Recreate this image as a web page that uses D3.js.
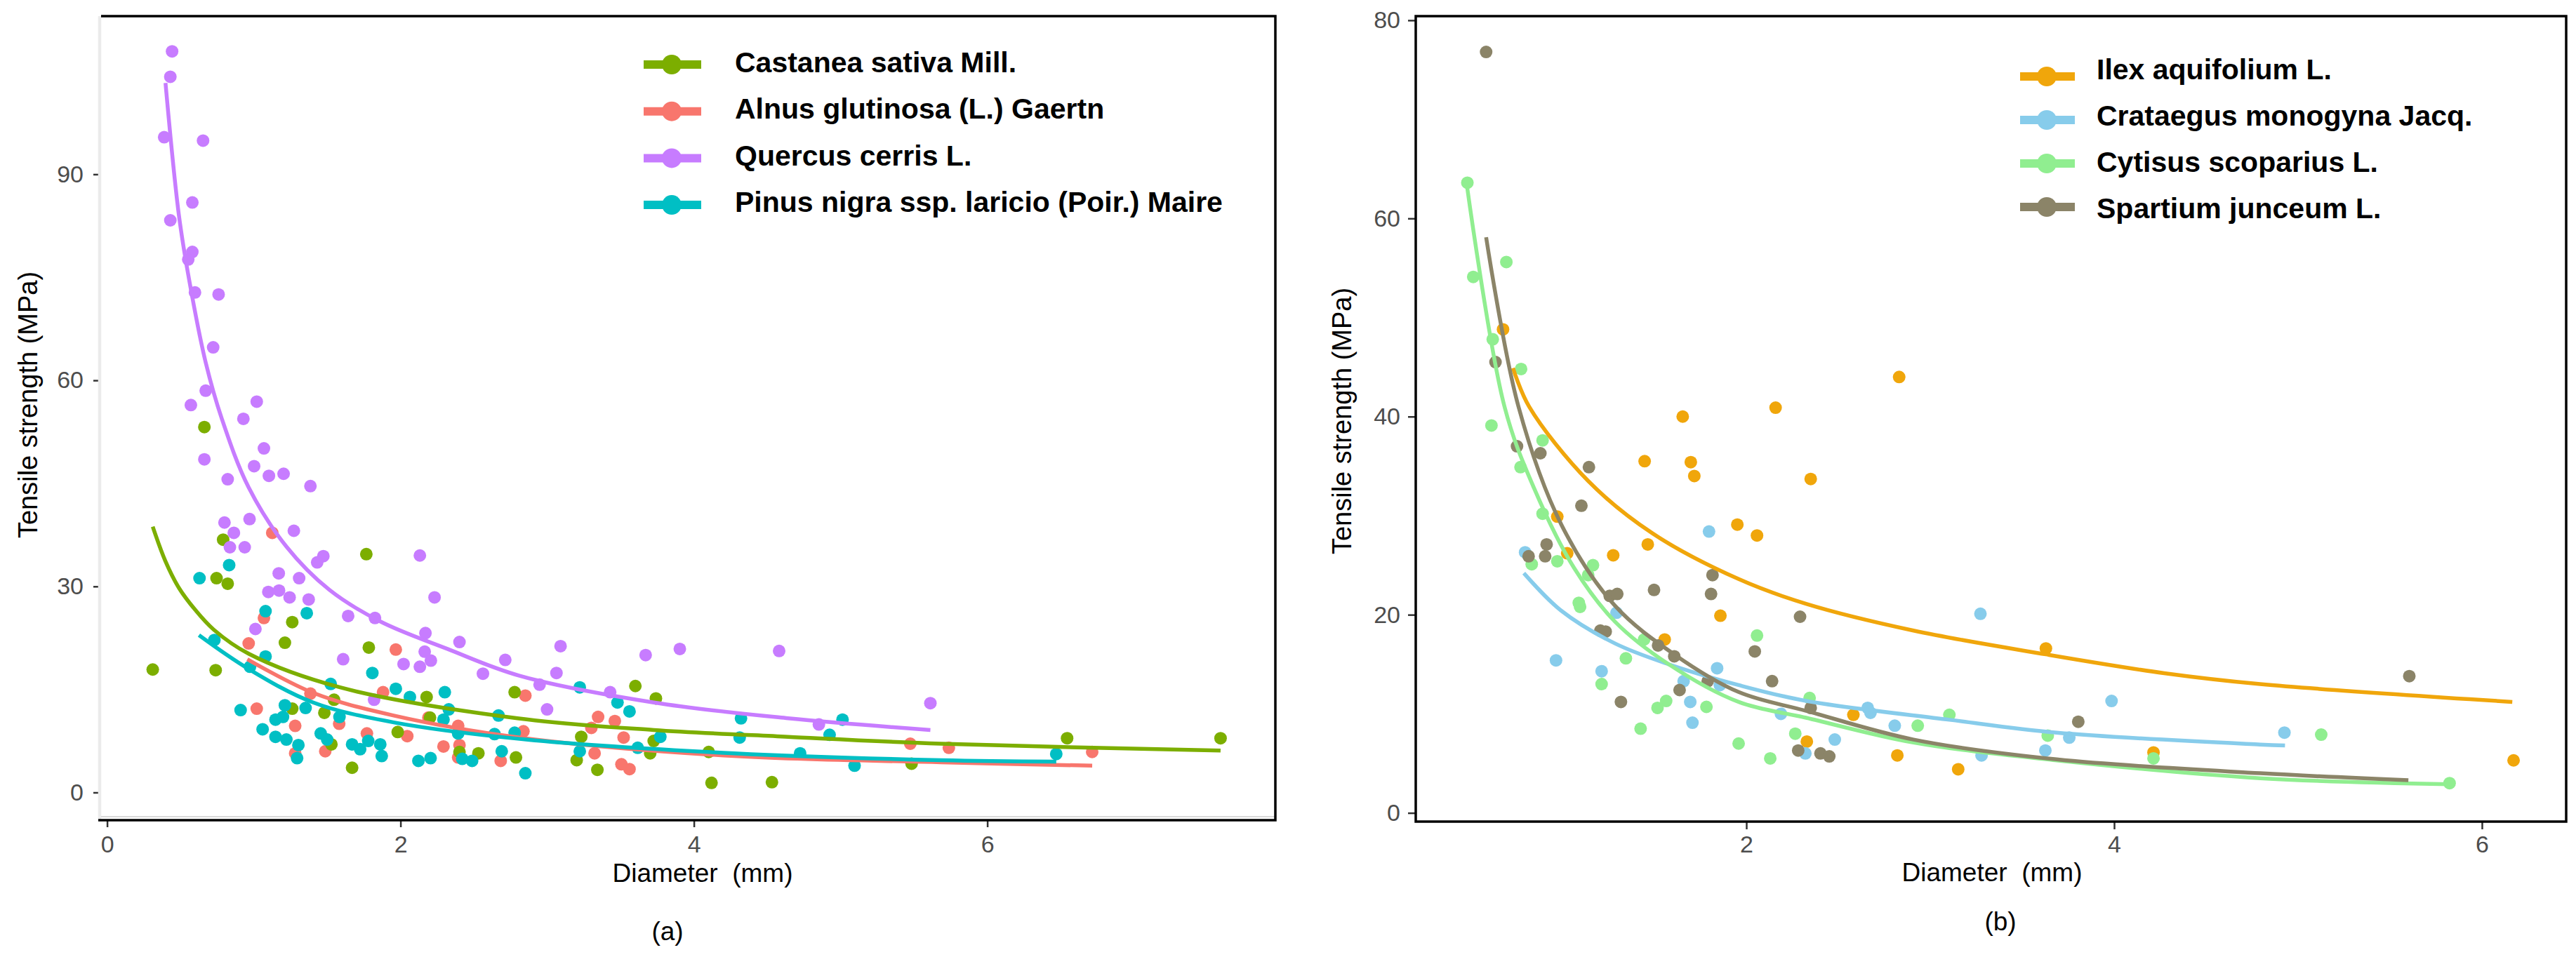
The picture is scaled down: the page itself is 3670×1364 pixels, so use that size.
<!DOCTYPE html>
<meta charset="utf-8">
<style>
    body { margin: 0; background: #fff; }
    svg { display: block; font-family: 'Liberation Sans', Arial, sans-serif; }
    .tick text { fill: #4d4d4d; font-size: 34px; }
    .tick line { stroke: #333; stroke-width: 2.5; }
    .legend text { font-size: 41px; font-weight: bold; fill: #000; }
    .title { font-size: 38px; fill: #000; }
</style>
<body>
<svg id="chart" width="3670" height="1364"></svg>

<script src="https://cdn.jsdelivr.net/npm/d3@7/dist/d3.min.js"></script>
<script>

// ---------- panel (a) data: [diameter mm, tensile strength MPa] ----------
var namesA = ["Castanea sativa Mill.", "Alnus glutinosa (L.) Gaertn", "Quercus cerris L.", "Pinus nigra ssp. laricio (Poir.) Maire"];
var colorsA = ["#7CAE00", "#F8766D", "#C77CFF", "#00BFC4"];
var xTicksA = [0, 2, 4, 6];
var yTicksA = [0, 30, 60, 90];

var castaneaPts = [[0.311,17.9],[0.663,53.2],[0.740,17.8],[0.746,31.2],[0.791,36.8],[0.822,30.4],[1.212,21.8],[1.262,24.8],
    [1.262,12.2],[1.481,11.6],[1.547,13.5],[1.529,7.0],[1.670,3.6],[1.767,34.7],[1.784,21.1],[1.981,8.8],[2.178,13.9],
    [2.201,10.9],[2.402,5.9],[2.531,5.7],[2.778,14.6],[2.787,5.1],[3.232,8.1],[3.201,4.7],[3.342,3.3],[3.601,15.5],
    [3.741,13.7],[3.726,7.5],[3.702,5.7],[4.101,5.9],[4.120,1.4],[4.532,1.5],[5.484,4.2],[6.544,7.9],[7.590,7.9]];
var alnusPts = [[1.020,12.2],[0.965,21.7],[1.069,25.4],[1.126,37.8],[1.282,9.7],[1.282,5.7],[1.386,14.4],[1.487,6.0],
    [1.582,10.0],[1.771,8.6],[1.881,14.6],[1.968,20.8],[2.046,8.2],[2.190,10.9],[2.293,6.7],[2.393,9.7],[2.402,6.9],
    [2.393,5.1],[2.683,4.6],[2.851,14.1],[2.838,8.9],[3.347,11.0],[3.461,10.4],[3.301,9.4],[3.521,8.0],[3.323,5.7],
    [3.506,4.1],[3.561,3.4],[5.475,7.1],[5.738,6.5],[6.715,5.9]];
var quercusPts = [[0.443,107.9],[0.431,104.2],[0.389,95.4],[0.654,94.9],[0.581,85.9],[0.431,83.3],[0.581,78.7],[0.553,77.6],
    [0.599,72.8],[0.760,72.5],[0.723,64.8],[0.672,58.5],[0.571,56.4],[1.020,56.9],[0.929,54.4],[1.069,50.1],[0.663,48.5],
    [1.002,47.5],[1.103,46.1],[1.203,46.4],[0.822,45.6],[1.386,44.6],[0.800,39.3],[0.971,39.8],[0.864,37.8],[0.837,35.7],
    [0.938,35.7],[1.273,38.1],[1.474,34.4],[1.432,33.5],[2.132,34.5],[1.170,31.9],[1.309,31.2],[1.099,29.2],[1.172,29.4],
    [1.244,28.4],[1.374,28.1],[2.232,28.4],[1.011,23.8],[1.643,25.7],[1.826,25.4],[2.170,23.2],[2.402,21.9],[1.609,19.4],
    [2.165,20.5],[2.021,18.7],[2.132,18.3],[2.207,19.2],[2.714,19.3],[2.562,17.3],[1.820,13.5],[3.091,21.3],[3.671,20.0],
    [3.904,20.9],[4.581,20.6],[3.063,17.4],[2.948,15.7],[3.429,14.6],[2.999,12.1],[4.852,9.9],[5.612,13.0]];
var pinusPts = [[0.832,33.1],[0.630,31.2],[1.080,26.4],[1.361,26.1],[0.731,22.2],[1.080,19.8],[0.974,18.3],[1.808,17.4],
    [1.524,15.8],[1.968,15.1],[2.302,14.6],[2.064,13.9],[0.910,12.0],[1.212,12.7],[1.353,12.3],[1.148,10.6],[1.199,11.0],
    [1.060,9.2],[1.148,8.1],[1.222,7.7],[1.304,6.9],[1.295,5.0],[1.456,8.6],[1.500,7.7],[1.584,11.0],[1.670,7.0],[1.725,6.3],
    [1.780,7.5],[1.862,7.0],[1.872,5.3],[2.122,4.6],[2.205,5.0],[2.293,10.6],[2.329,12.1],[2.421,4.9],[2.488,4.6],[2.690,6.0],
    [2.668,11.2],[2.641,8.5],[2.778,8.7],[2.393,8.6],[3.222,15.3],[3.479,13.1],[3.561,11.8],[3.771,8.1],[3.617,6.5],
    [3.222,6.0],[2.851,2.8],[4.321,10.8],[4.312,8.0],[4.724,5.7],[4.925,8.4],[5.013,10.6],[5.095,3.9],[6.470,5.6]];

// fitted curves
var castaneaFit = [[0.311,38.7],[0.397,33.7],[0.489,29.8],[0.600,26.6],[0.727,23.7],[0.965,20.2],[1.588,15.3],[2.797,10.8],[3.726,9.1],[4.642,8.1],[5.684,7.1],[7.590,6.1]];
var alnusFit = [[0.956,19.4],[1.405,14.5],[1.954,11.2],[2.811,8.0],[4.275,5.3],[5.684,4.4],[6.715,3.9]];
var quercusFit = [[0.398,103.3],[0.489,84.1],[0.562,74.3],[0.672,62.6],[0.782,54.4],[0.965,44.4],[1.222,35.8],[1.515,29.5],
    [1.862,24.9],[2.320,20.9],[2.811,17.0],[3.726,13.1],[4.642,10.8],[5.612,9.1]];
var pinusFit = [[0.626,22.9],[0.963,18.0],[1.405,13.1],[1.954,10.2],[2.811,7.8],[4.275,5.7],[5.684,4.7],[6.470,4.5]];

// ---------- panel (b) data ----------
var namesB = ["Ilex aquifolium L.", "Crataegus monogyna Jacq.", "Cytisus scoparius L.", "Spartium junceum L."];
var colorsB = ["#F0A60B", "#87CCEB", "#90EE90", "#8B8468"];
var xTicksB = [2, 4, 6];
var yTicksB = [0, 20, 40, 60, 80];

var ilexPts = [[0.677,48.8],[1.654,40.0],[1.447,35.5],[1.698,35.4],[1.717,34.0],[0.972,29.9],[1.951,29.1],[1.464,27.1],
    [1.026,26.2],[1.276,26.0],[1.859,19.9],[1.556,17.5],[2.159,40.9],[2.831,44.0],[2.350,33.7],[2.058,28.0],[2.582,9.9],
    [2.329,7.2],[2.821,5.8],[3.152,4.4],[3.629,16.6],[4.214,6.1],[6.172,5.3]];
var crataegusPts = [[0.797,26.3],[1.797,28.4],[1.294,20.2],[0.965,15.4],[1.841,14.6],[1.213,14.3],[1.659,13.3],[1.856,12.9],
    [1.695,11.2],[1.707,9.1],[2.188,10.0],[2.675,10.1],[2.660,10.6],[2.807,8.8],[2.481,7.4],[2.321,6.0],[3.273,20.1],
    [3.986,11.3],[3.756,7.6],[3.626,6.3],[3.279,5.8],[4.926,8.1]];
var cytisusPts = [[0.483,63.6],[0.515,54.1],[0.695,55.6],[0.621,47.8],[0.775,44.8],[0.614,39.1],[0.892,37.6],[0.772,34.9],
    [0.892,30.2],[0.833,25.1],[0.972,25.4],[1.166,25.0],[1.140,24.0],[1.089,21.2],[1.096,20.8],[1.444,17.5],[1.345,15.6],
    [1.213,13.0],[1.564,11.3],[1.517,10.6],[1.783,10.7],[1.425,8.5],[1.958,7.0],[2.058,17.9],[2.344,11.6],[3.104,9.9],
    [2.932,8.8],[2.266,8.0],[2.130,5.5],[3.639,7.8],[4.214,5.5],[5.126,7.9],[5.824,3.0]];
var spartiumPts = [[0.585,76.8],[0.636,45.5],[0.753,37.0],[0.880,36.3],[1.144,34.9],[1.103,31.0],[0.914,27.1],[0.816,25.9],
    [0.906,25.9],[1.816,24.0],[1.498,22.5],[1.808,22.1],[1.257,21.9],[1.298,22.1],[1.206,18.4],[1.235,18.3],[1.520,16.9],
    [1.608,15.8],[1.790,13.3],[1.637,12.4],[1.318,11.2],[2.292,19.8],[2.046,16.3],[2.140,13.3],[2.350,10.6],[2.282,6.3],
    [2.403,6.0],[2.451,5.7],[3.805,9.2],[5.605,13.8]];

var ilexFit = [[0.731,44.9],[0.819,41.0],[1.140,33.5],[1.491,28.2],[1.958,23.6],[2.325,21.1],[2.909,18.4],[3.629,16.0],[4.272,14.1],[4.794,13.0],[6.165,11.2]];
var crataegusFit = [[0.790,24.2],[0.994,20.4],[1.286,17.1],[1.578,15.0],[1.958,12.9],[2.325,11.3],[3.104,9.4],[3.687,8.1],[4.794,6.9],[4.929,6.8]];
var cytisusFit = [[0.480,63.4],[0.685,41.0],[0.845,32.8],[1.064,24.7],[1.286,19.3],[1.578,15.0],[1.958,11.2],[2.325,9.6],[2.909,7.1],[3.687,5.3],[4.794,3.5],[5.824,2.9]];
var spartiumFit = [[0.585,58.1],[0.761,41.0],[0.994,29.1],[1.286,20.9],[1.608,16.0],[1.958,12.2],[2.325,10.3],[2.909,7.4],[3.687,5.4],[4.794,4.0],[5.600,3.3]];


var svg = d3.select("#chart");
svg.append("rect").attr("width", 3670).attr("height", 1364).attr("fill", "#fff");

// series are listed in legend order; draw order is separate (ggplot draws factor levels alphabetically)
var panels = [
    {
        frame: { left: 144, right: 1817, top: 23, bottom: 1168 },
        x: d3.scaleLinear().domain([0, 8]).range([152.6, 1824.6]),
        y: d3.scaleLinear().domain([0, 90]).range([1129.5, 248.4]),
        xTicks: xTicksA, yTicks: yTicksA,
        names: namesA, colors: colorsA,
        pts: [castaneaPts, alnusPts, quercusPts, pinusPts],
        fits: [castaneaFit, alnusFit, quercusFit, pinusFit],
        order: [1, 0, 3, 2],
        yPad: 14, xPad: 12, grayLeft: true,
        tag: "(a)", tagX: 951, tagY: 1340,
        yTitleX: 53, yTitleY: 577, xTitleX: 1001, xTitleY: 1257,
        legend: { x0: 917, x1: 999, dot: 957, text: 1047, key0: 92, keyStep: 66.7, base0: 103, baseStep: 66.3 }
    },
    {
        frame: { left: 2017, right: 3656, top: 23, bottom: 1171 },
        x: d3.scaleLinear().domain([2, 6]).range([2488, 3536]),
        y: d3.scaleLinear().domain([0, 80]).range([1158.6, 28.9]),
        xTicks: xTicksB, yTicks: yTicksB,
        names: namesB, colors: colorsB,
        pts: [ilexPts, crataegusPts, cytisusPts, spartiumPts],
        fits: [ilexFit, crataegusFit, cytisusFit, spartiumFit],
        order: [0, 1, 2, 3],
        yPad: 11, xPad: 9, grayLeft: false,
        tag: "(b)", tagX: 2850, tagY: 1326,
        yTitleX: 1925, yTitleY: 600, xTitleX: 2838, xTitleY: 1256,
        legend: { x0: 2878, x1: 2956, dot: 2916, text: 2987, key0: 109, keyStep: 62, base0: 113, baseStep: 66 }
    }
];

panels.forEach(drawPanel);

function drawPanel(p) {
    var f = p.frame;
    var g = svg.append("g");

    // axes (ticks + labels only, the frame is drawn by hand)
    var yAxis = g.append("g")
        .attr("transform", "translate(" + f.left + ",0)")
        .call(d3.axisLeft(p.y).tickValues(p.yTicks).tickFormat(d3.format("d")).tickSize(11).tickPadding(p.yPad));
    var xAxis = g.append("g")
        .attr("transform", "translate(0," + f.bottom + ")")
        .call(d3.axisBottom(p.x).tickValues(p.xTicks).tickFormat(d3.format("d")).tickSize(11).tickPadding(p.xPad));
    [yAxis, xAxis].forEach(function (a) {
        a.select(".domain").remove();
        a.attr("font-family", null).attr("font-size", null);
    });

    // points, then fitted lines on top
    p.order.forEach(function (i) {
        g.append("g").selectAll("circle")
            .data(p.pts[i])
            .enter().append("circle")
            .attr("cx", function (d) { return p.x(d[0]); })
            .attr("cy", function (d) { return p.y(d[1]); })
            .attr("r", 9)
            .attr("fill", p.colors[i]);
    });

    var line = d3.line()
        .x(function (d) { return p.x(d[0]); })
        .y(function (d) { return p.y(d[1]); })
        .curve(d3.curveCatmullRom.alpha(0.5));

    p.order.forEach(function (i) {
        g.append("path")
            .datum(p.fits[i])
            .attr("d", line)
            .attr("fill", "none")
            .attr("stroke", p.colors[i])
            .attr("stroke-width", 5.5);
    });

    // frame
    if (p.grayLeft) {
        g.append("line").attr("x1", f.left - 2).attr("x2", f.left - 2).attr("y1", f.top).attr("y2", f.bottom)
            .attr("stroke", "#ebebeb").attr("stroke-width", 4.5);
        g.append("line").attr("x1", f.left).attr("x2", f.right).attr("y1", f.bottom - 4).attr("y2", f.bottom - 4)
            .attr("stroke", "#d9d9d9").attr("stroke-width", 2);
        g.append("path")
            .attr("d", "M" + f.left + "," + f.top + "H" + f.right + "V" + (f.bottom + 1) + "H" + (f.left - 4))
            .attr("fill", "none").attr("stroke", "#000").attr("stroke-width", 3.5);
    } else {
        g.append("rect")
            .attr("x", f.left).attr("y", f.top)
            .attr("width", f.right - f.left).attr("height", f.bottom - f.top)
            .attr("fill", "none").attr("stroke", "#000").attr("stroke-width", 3.5);
    }

    // legend
    var L = p.legend;
    var leg = g.append("g").attr("class", "legend");
    p.names.forEach(function (name, i) {
        var ky = L.key0 + i * L.keyStep;
        leg.append("line")
            .attr("x1", L.x0).attr("x2", L.x1).attr("y1", ky).attr("y2", ky)
            .attr("stroke", p.colors[i]).attr("stroke-width", 12);
        leg.append("circle")
            .attr("cx", L.dot).attr("cy", ky).attr("r", 14)
            .attr("fill", p.colors[i]);
        leg.append("text")
            .attr("x", L.text).attr("y", L.base0 + i * L.baseStep)
            .text(name);
    });

    // titles
    g.append("text").attr("class", "title")
        .attr("transform", "translate(" + p.yTitleX + "," + p.yTitleY + ") rotate(-90)")
        .attr("text-anchor", "middle")
        .text("Tensile strength (MPa)");
    g.append("text").attr("class", "title")
        .attr("x", p.xTitleX).attr("y", p.xTitleY)
        .attr("text-anchor", "middle")
        .attr("xml:space", "preserve")
        .style("white-space", "pre")
        .style("font-size", "37px")
        .text("Diameter  (mm)");
    g.append("text").attr("class", "title")
        .attr("x", p.tagX).attr("y", p.tagY)
        .attr("text-anchor", "middle")
        .style("font-size", "37px")
        .text(p.tag);
}
</script>
</body>
